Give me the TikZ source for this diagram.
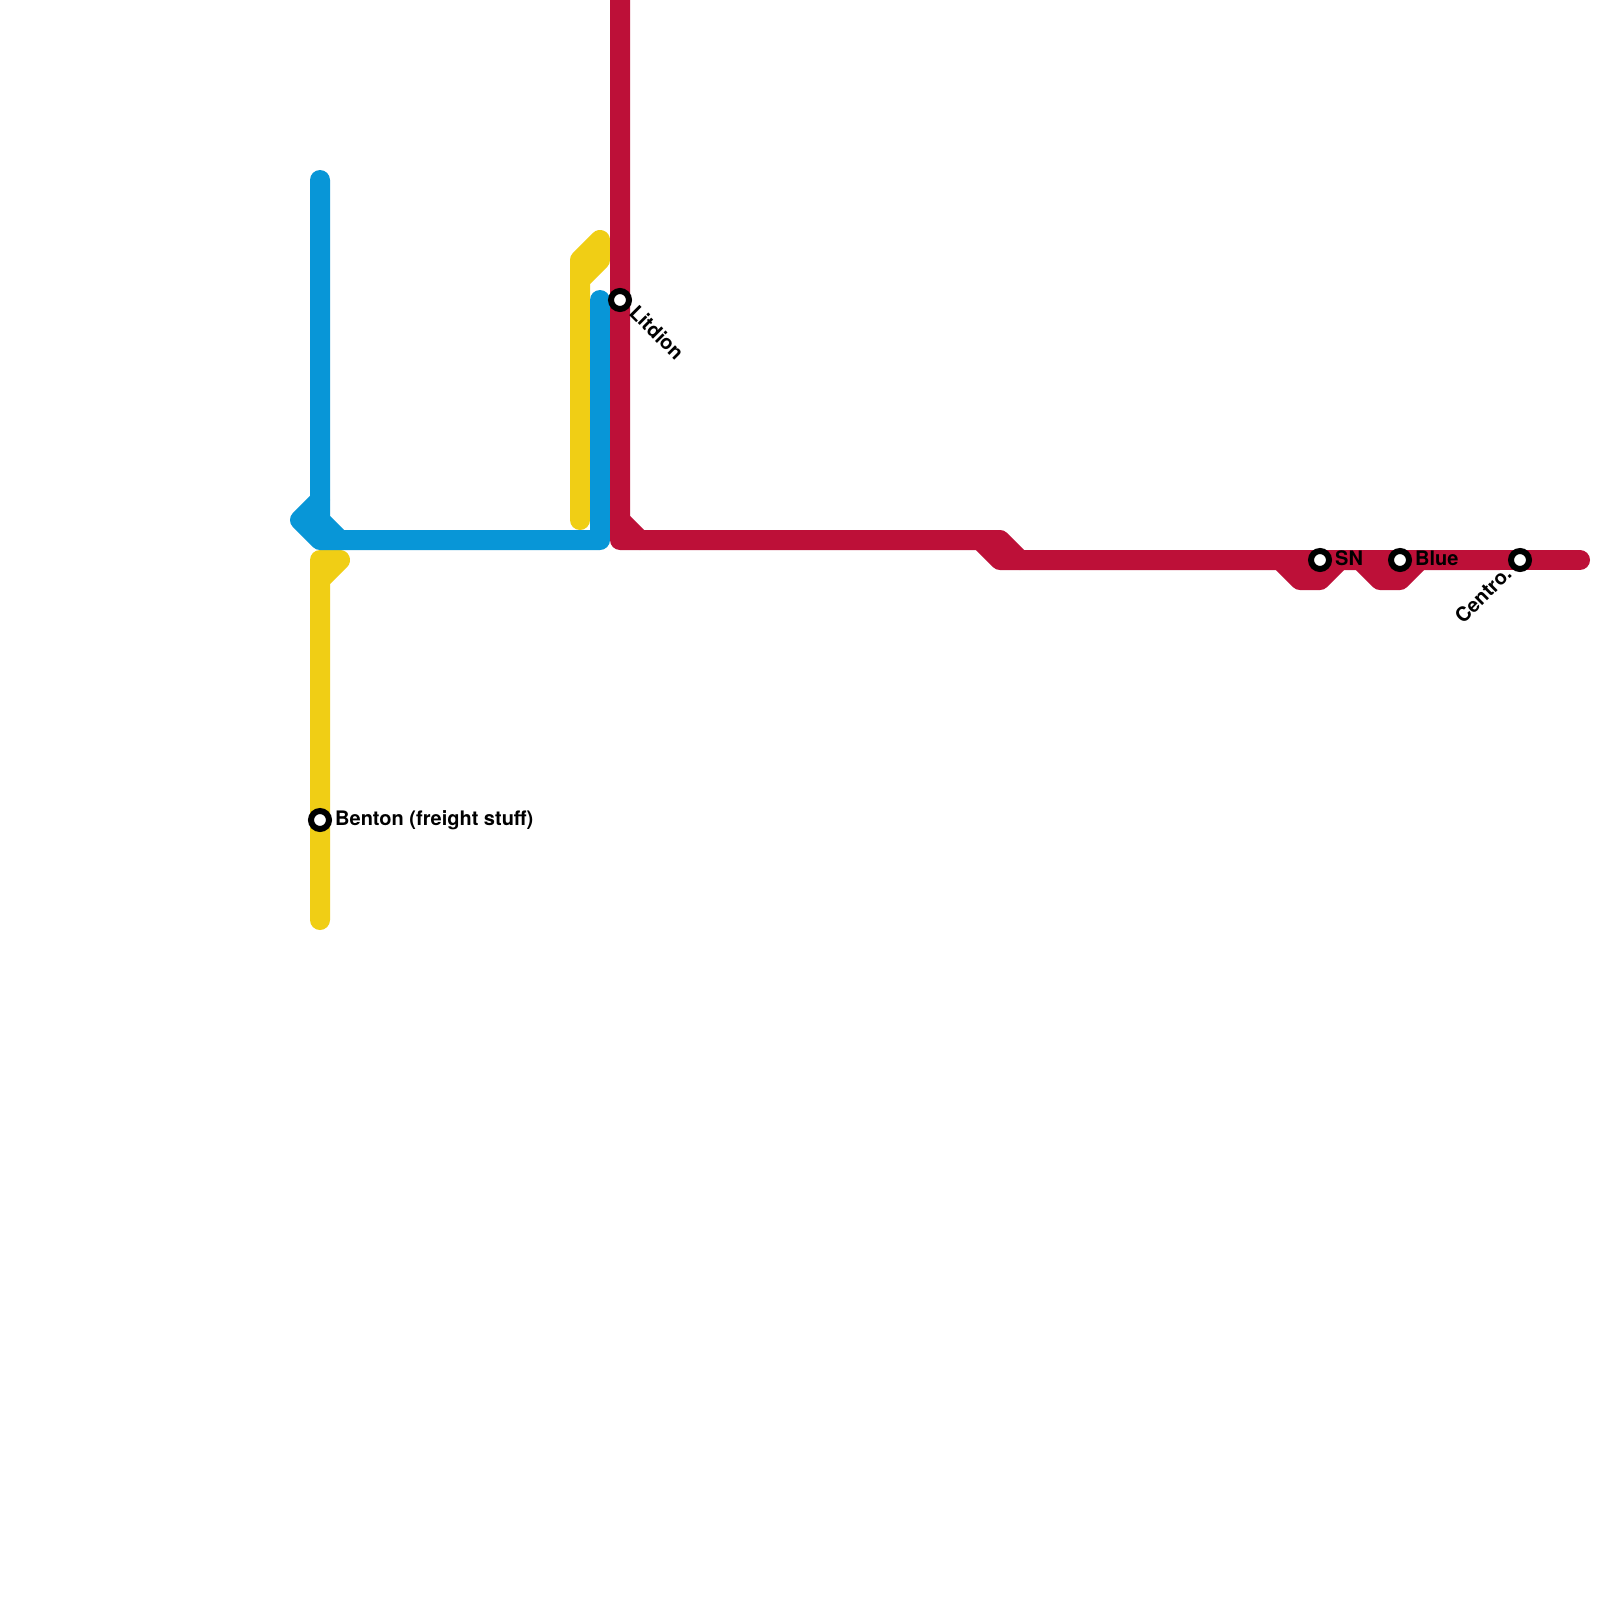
\documentclass[tikz,border=0pt]{standalone}
\usepackage{fontspec}
\setmainfont{TeX Gyre Heros}
\definecolor{lineblue}{HTML}{0896D7}
\definecolor{lineyellow}{HTML}{F0CE15}
\definecolor{linered}{HTML}{BD1038}
\tikzset{
  metro/.style={line width=20pt,line cap=round,line join=round},
  station/.style={circle,draw=black,fill=white,line width=6pt,minimum size=18pt,inner sep=0pt},
  stationlabel/.style={inner sep=0pt,font=\fontsize{20}{20}\selectfont\bfseries,text=black}
}
\begin{document}
\begin{tikzpicture}[x=1pt,y=-1pt]
\useasboundingbox (0,0) rectangle (1600,1600);
\fill[white] (0,0) rectangle (1600,1600);
% yellow
\draw[metro,lineyellow] (320,920)--(320,560)--(340,560)--(320,580);
\draw[metro,lineyellow] (580,520)--(580,260)--(600,240)--(600,260)--(580,280);
% blue
\draw[metro,lineblue] (320,180)--(320,520)--(340,540)--(600,540)--(600,300);
\draw[metro,lineblue] (320,500)--(300,520)--(320,540)--(340,540);
% red
\draw[metro,linered,line cap=butt] (620,0)--(620,540)--(1000,540)--(1020,560)--(1500,560);
\draw[metro,linered] (620,520)--(640,540);
\draw[metro,linered] (980,540)--(1000,560)--(1020,560);
\draw[metro,linered] (1020,560)--(1580,560);
\draw[metro,linered] (1280,560)--(1300,580)--(1320,580)--(1340,560);
\draw[metro,linered] (1360,560)--(1380,580)--(1400,580)--(1420,560);
% stations
\node[station] (litdion) at (620,300) {};
\node[station] (benton) at (320,820) {};
\node[station] (sn) at (1320,560) {};
\node[station] (blue) at (1400,560) {};
\node[station] (centro) at (1520,560) {};
% labels
\node[stationlabel,anchor=base west] (lbenton) at (335,825) {Benton (freight stuff)};
\node[stationlabel,anchor=base west] (lsn) at (1335,565) {SN};
\node[stationlabel,anchor=base west] (lblue) at (1415,565) {Blue};
\node[stationlabel,anchor=base west,rotate=-45] (llitdion) at (628,314) {Litdion};
\node[stationlabel,anchor=base east,rotate=45] (lcentro) at (1513,575) {Centro.};
\end{tikzpicture}
\end{document}
